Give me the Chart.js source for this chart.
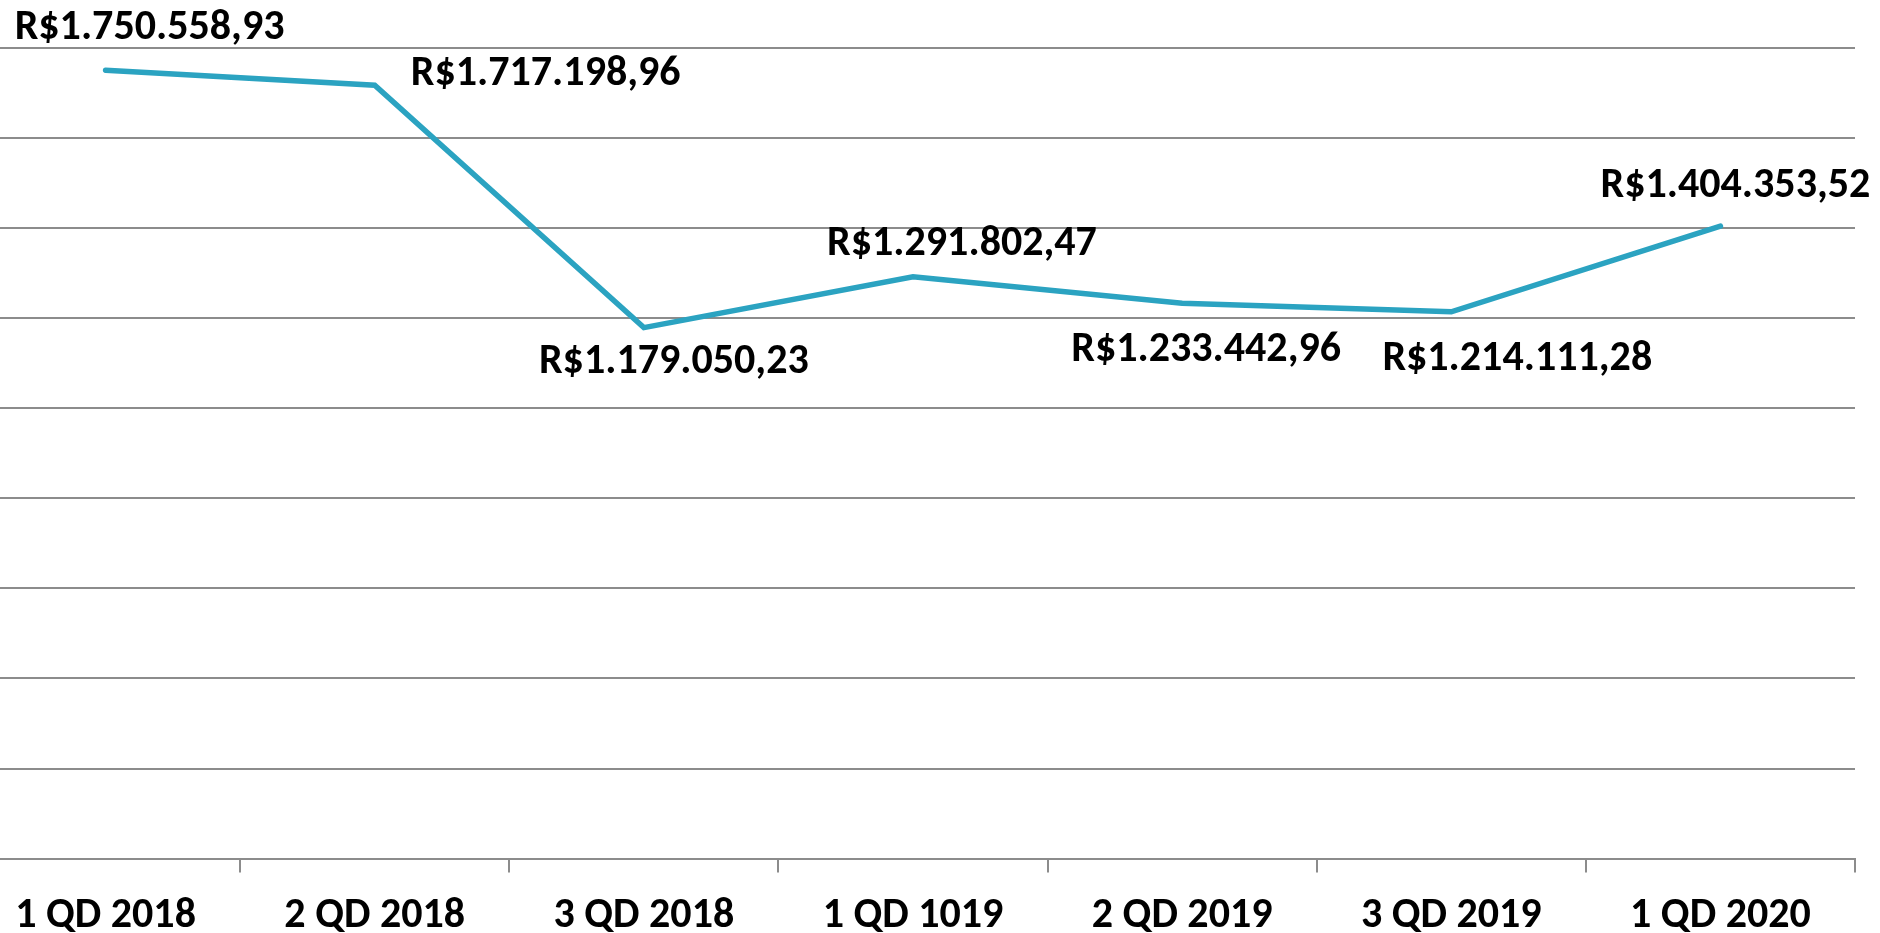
<!DOCTYPE html>
<html>
<head>
<meta charset="utf-8">
<script src="https://cdn.jsdelivr.net/npm/chart.js@4.4.0/dist/chart.umd.min.js"></script>
<style>
  html, body { margin: 0; padding: 0; background: #fff; overflow: hidden; }
  #wrap { position: absolute; left: -29px; top: 0; width: 1909px; height: 961px; }
</style>
</head>
<body>
<div id="wrap"><canvas id="chart"></canvas></div>
<script>
var categorias = ["1 QD 2018", "2 QD 2018", "3 QD 2018", "1 QD 1019", "2 QD 2019", "3 QD 2019", "1 QD 2020"];
var valores = [1750558.93, 1717198.96, 1179050.23, 1291802.47, 1233442.96, 1214111.28, 1404353.52];
var yMin = 0, yMax = 1800000, yPaso = 200000;

// desplazamiento de cada rótulo respecto al punto (px)
var offsetsRotulos = [[44, -42], [171, -11], [30, 35], [49, -32], [24, 47], [66, 48], [15, -40]];

var fuente = "Carlito, 'Liberation Sans Narrow', 'Open Sans', sans-serif";
Chart.defaults.font.family = fuente;

function formatoReal(v){
  var partes = v.toFixed(2).split(".");
  var entero = partes[0].replace(/\B(?=(\d{3})+(?!\d))/g, ".");
  return "R$" + entero + "," + partes[1];
}

var rotulos = {
  id: "rotulos",
  afterDatasetsDraw: function(chart){
    var ctx = chart.ctx;
    var meta = chart.getDatasetMeta(0);
    ctx.save();
    ctx.font = "bold 42px " + fuente;
    ctx.fillStyle = "#000";
    ctx.textAlign = "center";
    ctx.textBaseline = "middle";
    meta.data.forEach(function(p, i){
      var o = offsetsRotulos[i];
      ctx.fillText(formatoReal(valores[i]), p.x + o[0], p.y + o[1]);
    });
    ctx.restore();
  }
};

var canvas = document.getElementById("chart").getContext("2d");
window.linea = new Chart(canvas, {
  type: "line",
  data: {
    labels: categorias,
    datasets: [{
      data: valores,
      borderColor: "#2ba3c1",
      borderWidth: 5.5,
      borderCapStyle: "round",
      pointRadius: 0,
      tension: 0,
      fill: false
    }]
  },
  options: {
    responsive: true,
    maintainAspectRatio: false,
    animation: false,
    layout: { padding: { top: 48, right: 25, left: 0, bottom: 0 } },
    plugins: {
      legend: { display: false },
      tooltip: { enabled: false }
    },
    scales: {
      x: {
        offset: true,
        grid: {
          offset: true,
          drawOnChartArea: false,
          drawTicks: true,
          tickLength: 14,
          color: "#8c8c8c",
          lineWidth: 2
        },
        border: { display: true, color: "#8c8c8c", width: 2 },
        ticks: {
          color: "#000",
          padding: 19,
          maxRotation: 0,
          font: { size: 42, weight: "bold" }
        }
      },
      y: {
        min: yMin,
        max: yMax,
        ticks: { display: false, stepSize: yPaso },
        grid: { color: "#8c8c8c", lineWidth: 2, drawTicks: false },
        border: { display: false }
      }
    }
  },
  plugins: [rotulos]
});
</script>
</body>
</html>
